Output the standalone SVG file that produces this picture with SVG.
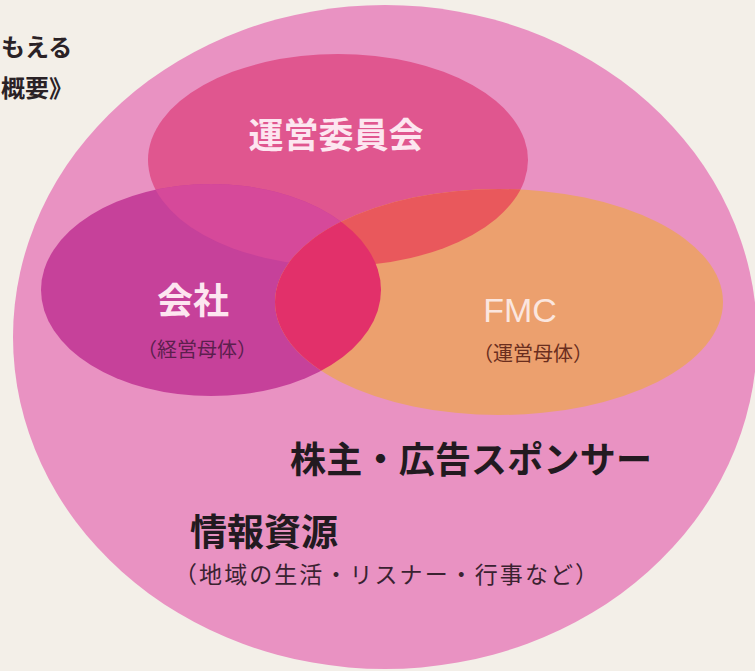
<svg xmlns="http://www.w3.org/2000/svg" width="755" height="671" viewBox="0 0 755 671">
  <style>
    .jp { font-family: "Noto Sans CJK JP", "Noto Sans", sans-serif; }
    .head { font-weight: 700; fill: #2a2226; }
    .white { font-weight: 700; fill: #fde6f0; }
    .big { font-weight: 700; fill: #221a20; }
  </style>
  <defs>
    <ellipse id="eTop" cx="338" cy="160" rx="190" ry="106"/>
    <ellipse id="eLeft" cx="211" cy="290" rx="170" ry="106"/>
    <ellipse id="eOrange" cx="499" cy="302" rx="224" ry="113"/>
    <clipPath id="cTop"><use href="#eTop"/></clipPath>
    <clipPath id="cLeft"><use href="#eLeft"/></clipPath>
  </defs>
  <rect width="755" height="671" fill="#f3efe8"/>

  <g id="header">
    <text class="jp head" x="1" y="56" font-size="24">もえる</text>
    <text class="jp head" x="1" y="97" font-size="24">概要》</text>
  </g>

  <g id="node-outer">
    <ellipse cx="385" cy="337" rx="372" ry="332" fill="#e992c2"/>
    <text class="jp big" x="471" y="473" font-size="36" text-anchor="middle" textLength="362">株主・広告スポンサー</text>
    <text class="jp big" x="190" y="546" font-size="37">情報資源</text>
    <text class="jp" x="386" y="583" font-size="23" fill="#3a2231" text-anchor="middle" textLength="424">（地域の生活・リスナー・行事など）</text>
  </g>

  <g id="node-committee">
    <use href="#eTop" fill="#e0568f"/>
  </g>
  <g id="node-company">
    <use href="#eLeft" fill="#c6419a"/>
    <g clip-path="url(#cTop)"><use href="#eLeft" fill="#d6499a"/></g>
  </g>
  <g id="node-fmc">
    <use href="#eOrange" fill="#eca06e"/>
    <g clip-path="url(#cTop)"><use href="#eOrange" fill="#e9585c"/></g>
    <g clip-path="url(#cLeft)"><use href="#eOrange" fill="#e2306a"/></g>
  </g>

  <g id="labels">
    <text class="jp white" x="336" y="148" font-size="35" text-anchor="middle">運営委員会</text>
    <text class="jp white" x="193" y="314" font-size="36" text-anchor="middle">会社</text>
    <text class="jp" x="197" y="357" font-size="20" fill="#5c1f4e" text-anchor="middle">（経営母体）</text>
    <text x="520" y="322" font-family="Liberation Sans, Arial, sans-serif" font-size="34" fill="#fbe6df" text-anchor="middle">FMC</text>
    <text class="jp" x="533" y="361" font-size="20" fill="#6a2e1e" text-anchor="middle">（運営母体）</text>
  </g>
  <g id="connectors"></g>
</svg>
